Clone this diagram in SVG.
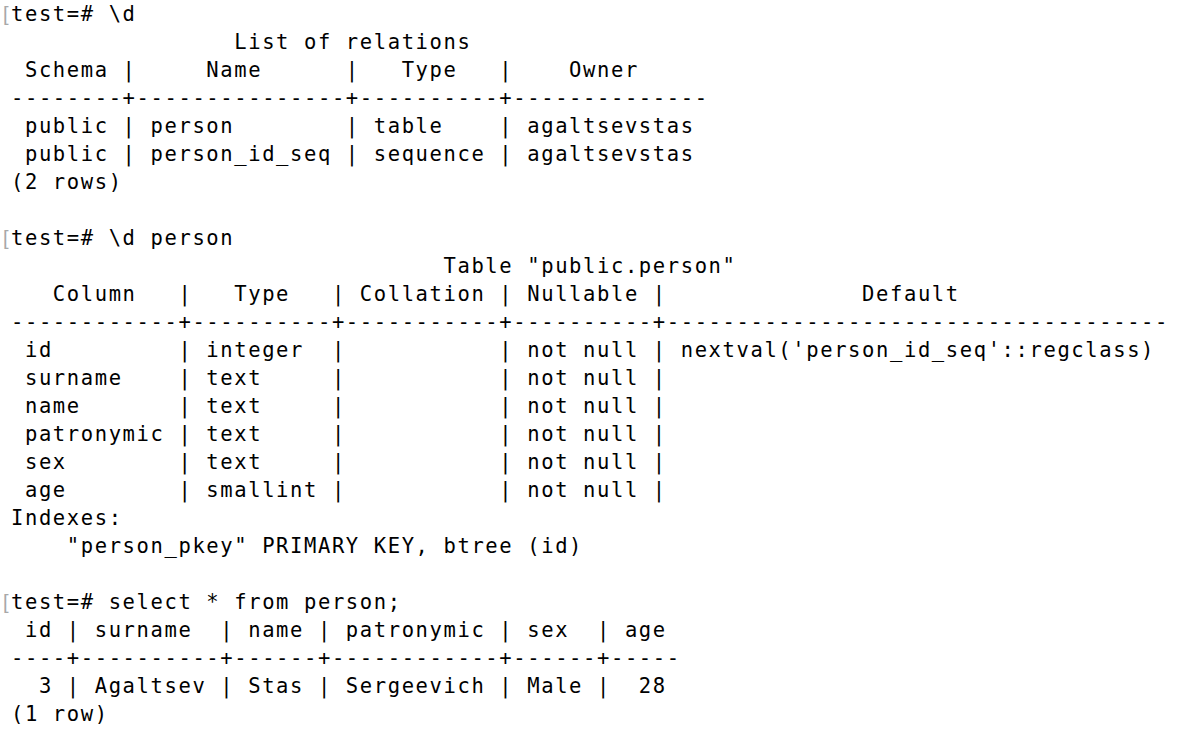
<svg xmlns="http://www.w3.org/2000/svg" width="1188" height="736" viewBox="0 0 1188 736">
<style>
.t{font-family:"DejaVu Sans Mono","Liberation Mono",monospace;font-size:20.5px;letter-spacing:1.61px;fill:#000;white-space:pre}
.m{font-family:"Liberation Sans",Arial,sans-serif;font-size:20px;fill:#a8a8a8}
</style>
<rect x="0" y="0" width="1188" height="736" fill="#fff"/>
<g id="terminal">
<text class="m" x="3" y="21">[</text>
<text class="t" x="11" y="21" xml:space="preserve">test=# \d</text>
<text class="t" x="11" y="49" xml:space="preserve">                List of relations</text>
<text class="t" x="11" y="77" xml:space="preserve"> Schema |     Name      |   Type   |    Owner</text>
<text class="t" x="11" y="105" xml:space="preserve">--------+---------------+----------+--------------</text>
<text class="t" x="11" y="133" xml:space="preserve"> public | person        | table    | agaltsevstas</text>
<text class="t" x="11" y="161" xml:space="preserve"> public | person_id_seq | sequence | agaltsevstas</text>
<text class="t" x="11" y="189" xml:space="preserve">(2 rows)</text>
<text class="m" x="3" y="245">[</text>
<text class="t" x="11" y="245" xml:space="preserve">test=# \d person</text>
<text class="t" x="11" y="273" xml:space="preserve">                               Table "public.person"</text>
<text class="t" x="11" y="301" xml:space="preserve">   Column   |   Type   | Collation | Nullable |              Default</text>
<text class="t" x="11" y="329" xml:space="preserve">------------+----------+-----------+----------+------------------------------------</text>
<text class="t" x="11" y="357" xml:space="preserve"> id         | integer  |           | not null | nextval('person_id_seq'::regclass)</text>
<text class="t" x="11" y="385" xml:space="preserve"> surname    | text     |           | not null |</text>
<text class="t" x="11" y="413" xml:space="preserve"> name       | text     |           | not null |</text>
<text class="t" x="11" y="441" xml:space="preserve"> patronymic | text     |           | not null |</text>
<text class="t" x="11" y="469" xml:space="preserve"> sex        | text     |           | not null |</text>
<text class="t" x="11" y="497" xml:space="preserve"> age        | smallint |           | not null |</text>
<text class="t" x="11" y="525" xml:space="preserve">Indexes:</text>
<text class="t" x="11" y="553" xml:space="preserve">    "person_pkey" PRIMARY KEY, btree (id)</text>
<text class="m" x="3" y="609">[</text>
<text class="t" x="11" y="609" xml:space="preserve">test=# select * from person;</text>
<text class="t" x="11" y="637" xml:space="preserve"> id | surname  | name | patronymic | sex  | age</text>
<text class="t" x="11" y="665" xml:space="preserve">----+----------+------+------------+------+-----</text>
<text class="t" x="11" y="693" xml:space="preserve">  3 | Agaltsev | Stas | Sergeevich | Male |  28</text>
<text class="t" x="11" y="721" xml:space="preserve">(1 row)</text>
</g>
</svg>
